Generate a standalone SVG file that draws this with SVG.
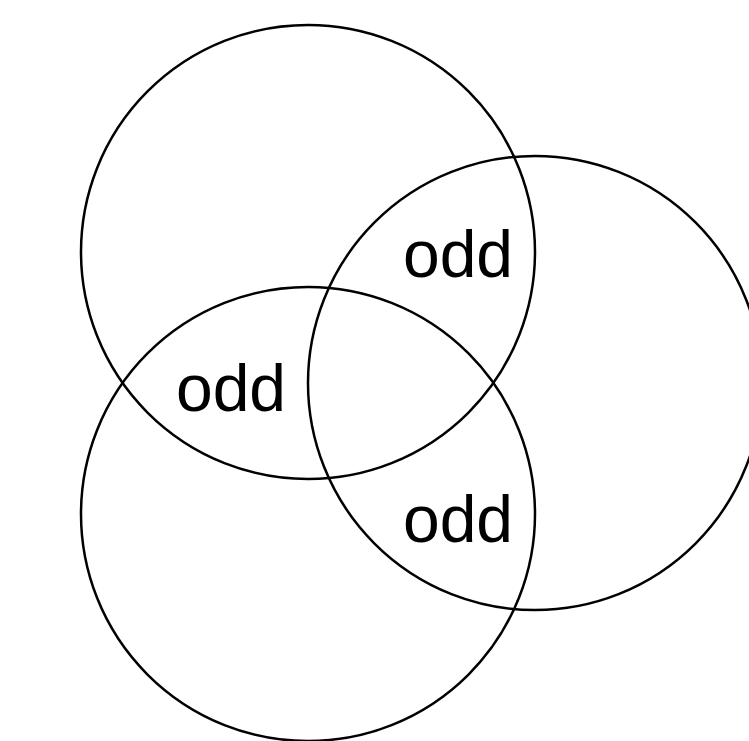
<svg xmlns="http://www.w3.org/2000/svg" width="749" height="741" viewBox="0 0 749 741">
<style>
.c{fill:none;stroke:#000;stroke-width:2.5}
.t{font-family:"Liberation Sans",Arial,sans-serif;font-size:66px;fill:#000;text-anchor:middle}
</style>
<rect width="749" height="741" fill="#fff"/>
<g id="circle-top"><circle class="c" cx="308" cy="252" r="227"/></g>
<g id="circle-right"><circle class="c" cx="535" cy="383" r="227"/></g>
<g id="circle-bottom"><circle class="c" cx="308" cy="514" r="227"/></g>
<g id="label-top-right"><text class="t" x="458" y="277">odd</text></g>
<g id="label-left"><text class="t" x="231" y="411">odd</text></g>
<g id="label-bottom-right"><text class="t" x="458" y="542">odd</text></g>
<g id="connectors"></g>
</svg>
